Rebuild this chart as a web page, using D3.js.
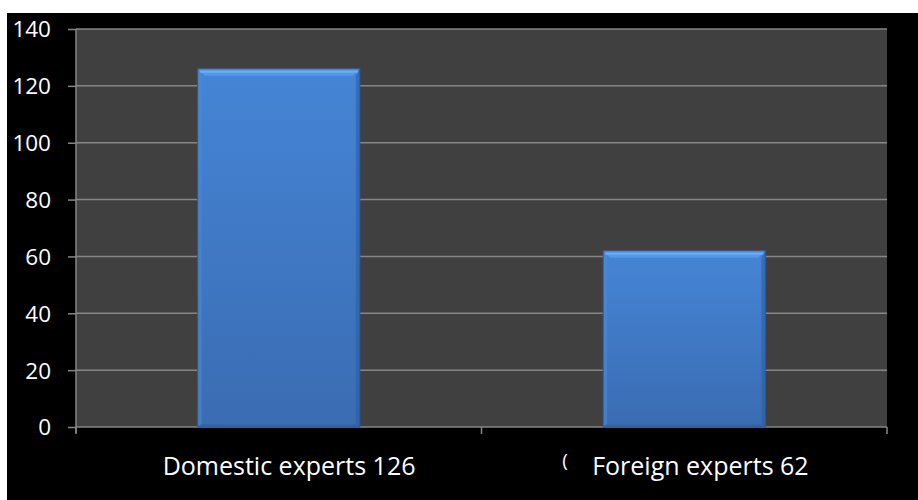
<!DOCTYPE html>
<html><head><meta charset="utf-8">
<script src="https://cdn.jsdelivr.net/npm/d3@7"></script>
<style>body{margin:0;background:#fff}svg{display:block}text{font-family:"Open Sans",sans-serif}</style>
</head><body>
<svg id="c" width="918" height="500"></svg>
<script>
const categories = ["Domestic experts 126", "Foreign experts 62"];
const values = [126, 62];
const yTicks = [0, 20, 40, 60, 80, 100, 120, 140];

const svg = d3.select("#c");
svg.append("rect").attr("x", 7).attr("y", 13).attr("width", 911).attr("height", 487).attr("fill", "#000");

const L = 76, R = 887, T = 29, B = 427;
const x = d3.scaleBand().domain(categories).range([L, R]).paddingInner(0.6).paddingOuter(0.3);
const y = d3.scaleLinear().domain([0, 140]).range([B, T]);

svg.append("rect").attr("x", L).attr("y", T).attr("width", R - L).attr("height", B - T).attr("fill", "#404040");

// gridlines
svg.append("g").selectAll("line").data(yTicks.filter(d => d > 0)).join("line")
  .attr("x1", L).attr("x2", R).attr("y1", d => y(d)).attr("y2", d => y(d))
  .attr("stroke", "#868686").attr("stroke-width", 1.5);

// y axis
const yAxis = svg.append("g").attr("transform", `translate(${L},0)`)
  .call(d3.axisLeft(y).tickValues(yTicks).tickSize(8).tickPadding(17));
yAxis.select(".domain").attr("stroke", "#868686").attr("stroke-width", 1.5).attr("d", `M0,${T}V${B + 6}`);
yAxis.selectAll(".tick line").attr("stroke", "#868686").attr("stroke-width", 1.5);
yAxis.selectAll("text").attr("fill", "#fff").style("font-size", "22.5px").attr("font-family", "Open Sans").attr("dy", "0.35em");

// x axis line and boundary ticks
svg.append("line").attr("x1", L).attr("x2", R).attr("y1", B).attr("y2", B).attr("stroke", "#868686").attr("stroke-width", 1.5);
const bounds = [L, ...categories.slice(1).map(c => x(c) - x.step() * x.paddingInner() / 2), R];
svg.append("g").selectAll("line").data(bounds).join("line")
  .attr("x1", d => d).attr("x2", d => d).attr("y1", B).attr("y2", B + 7)
  .attr("stroke", "#868686").attr("stroke-width", 1.5);

// gradients
const defs = svg.append("defs");
const g = defs.append("linearGradient").attr("id", "face").attr("x1", 0).attr("y1", 0).attr("x2", 0).attr("y2", 1);
g.append("stop").attr("offset", 0).attr("stop-color", "#4585d6");
g.append("stop").attr("offset", 1).attr("stop-color", "#3a6cb2");

// bars with subtle bevel
const bev = 7;
const bars = svg.append("g").selectAll("g").data(categories).join("g");
bars.each(function (c, i) {
  const gg = d3.select(this);
  const x0 = x(c), x1 = x(c) + x.bandwidth(), y0 = y(values[i]), y1 = y(0);
  gg.append("rect").attr("x", x0).attr("y", y0).attr("width", x1 - x0).attr("height", y1 - y0).attr("fill", "url(#face)");
  gg.append("polygon").attr("points", `${x0},${y0} ${x1},${y0} ${x1 - bev},${y0 + bev} ${x0 + bev},${y0 + bev}`).attr("fill", "#5598e8");
  gg.append("line").attr("x1", x0 + 2).attr("x2", x1 - 2).attr("y1", y0 + 3).attr("y2", y0 + 3).attr("stroke", "#6cacf6").attr("stroke-width", 2);
  gg.append("polygon").attr("points", `${x0},${y0} ${x0 + 4},${y0 + bev} ${x0 + 4},${y1 - 3} ${x0},${y1}`).attr("fill", "#4a8ad8").attr("opacity", 0.6);
  gg.append("polygon").attr("points", `${x1},${y0} ${x1 - 4},${y0 + bev} ${x1 - 4},${y1 - 3} ${x1},${y1}`).attr("fill", "#2f5e9e").attr("opacity", 0.6);
  gg.append("polygon").attr("points", `${x0},${y1} ${x0 + 4},${y1 - 3} ${x1 - 4},${y1 - 3} ${x1},${y1}`).attr("fill", "#33639f").attr("opacity", 0.7);
  gg.append("rect").attr("x", x0).attr("y", y0).attr("width", x1 - x0).attr("height", y1 - y0).attr("fill", "none").attr("stroke", "#2d5793").attr("stroke-width", 1);
});

// category labels
const startOff = [-35, -11];
svg.append("g").selectAll("text").data(categories).join("text")
  .attr("x", (d, i) => x(d) + startOff[i])
  .attr("y", 475).attr("text-anchor", "start").attr("fill", "#fff").style("font-size", "25px").text(d => d);
svg.append("text").attr("x", x(categories[1]) - 41).attr("y", 467).attr("fill", "#fff").style("font-size", "19px").text("(");
</script>
</body></html>
